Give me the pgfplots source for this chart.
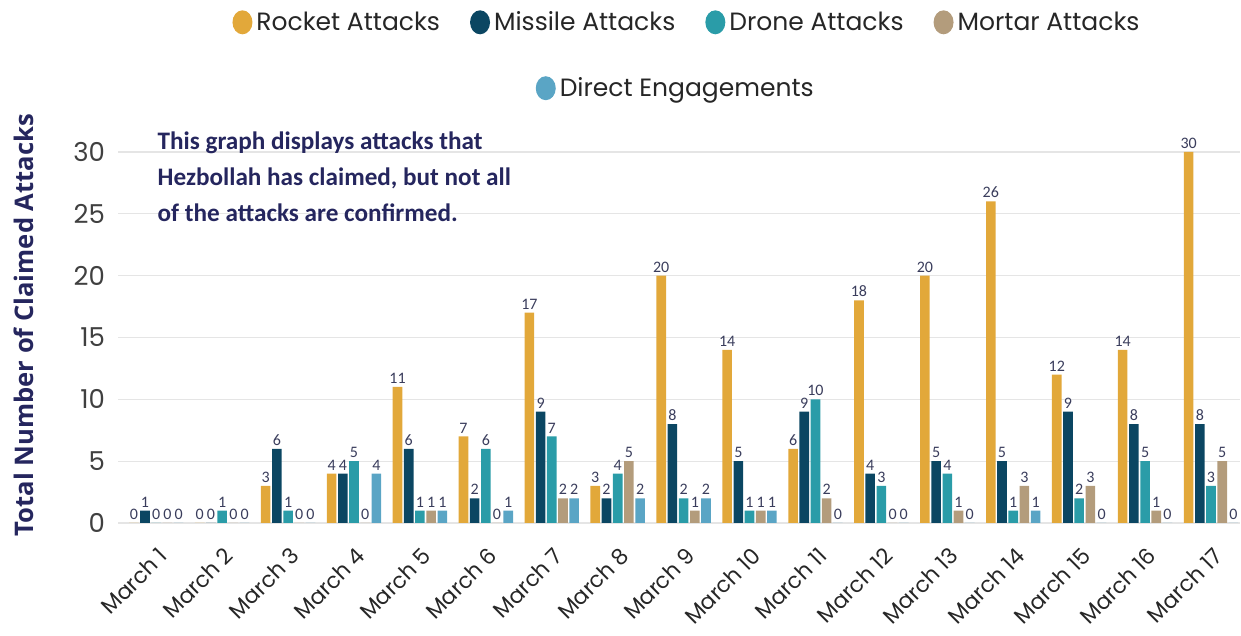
\documentclass[border=0pt]{standalone}
\usepackage{fontspec}
\setmainfont{Poppins}
\newfontfamily\carlito{Carlito}
\newfontfamily\opensans{Open Sans}
\usepackage{pgfplots}
\usepackage{pgfplotstable}
\pgfplotsset{compat=1.18}

\definecolor{rocket}{HTML}{E2A83A}
\definecolor{missile}{HTML}{0B4662}
\definecolor{drone}{HTML}{2A9CA8}
\definecolor{mortar}{HTML}{B39C7C}
\definecolor{direct}{HTML}{5AA5C5}
\definecolor{navy}{HTML}{25265E}
\definecolor{vlab}{HTML}{3A3D5C}

% attacks per day: rocket, missile, drone, mortar, direct engagements
\pgfplotstableread{
day R M D Mo DE
1 0 1 0 0 0
2 0 0 1 0 0
3 3 6 1 0 0
4 4 4 5 0 4
5 11 6 1 1 1
6 7 2 6 0 1
7 17 9 7 2 2
8 3 2 4 5 2
9 20 8 2 1 2
10 14 5 1 1 1
11 6 9 10 2 0
12 18 4 3 0 0
13 20 5 4 1 0
14 26 5 1 3 1
15 12 9 2 3 0
16 14 8 5 1 0
17 30 8 3 5 0
}\attacks

\pgfplotsset{
  base/.style={
    width=561pt, height=197.9pt, scale only axis,
    xmin=0.42, xmax=17.44, ymin=0, ymax=32,
    at={(59pt,56.5pt)}, anchor=south west,
  },
  dotlegend/.style={
    legend image code/.code={\fill[##1,draw=none] (3pt,0pt) ellipse (5pt and 6pt);},
  },
}

\begin{document}
\begin{tikzpicture}
\useasboundingbox (0,0) rectangle (620.5pt,318pt);
\begin{axis}[
  base,
  ybar=0.8pt, bar width=4.8pt,
  axis line style={draw=none},
  major tick length=0pt,
  clip=false,
  ymajorgrids, grid style={draw=black!10, line width=0.6pt},
  ytick={0,5,...,30},
  xtick={1,...,17},
  xticklabels={March 1,March 2,March 3,March 4,March 5,March 6,March 7,March 8,March 9,March 10,March 11,March 12,March 13,March 14,March 15,March 16,March 17},
  /pgf/number format/assume math mode=true,
  yticklabel style={font=\fontsize{13}{13}\selectfont, text=black!75, xshift=-3pt},
  xticklabel style={font=\fontsize{11}{11}\selectfont, text=black!85, xshift=6pt, yshift=-12pt, rotate=45, anchor=east},
  every axis y label/.style={at={(axis description cs:-0.084,0.5)}, rotate=90, anchor=center,
    font=\opensans\bfseries\fontsize{12.8}{13}\selectfont, text=navy},
  ylabel={Total Number of Claimed Attacks},
  nodes near coords,
  every node near coord/.append style={font=\carlito\fontsize{8}{8}\selectfont, text=vlab, inner sep=1.5pt},
  dotlegend,
  legend columns=4,
  legend style={draw=none, fill=none, at={(0.508,1.265)}, anchor=center,
    font=\fontsize{12.5}{15}\selectfont, text=black!85,
    /tikz/every even column/.append style={column sep=13pt}},
]
\addplot[fill=rocket, draw=none] table[x=day, y=R] {\attacks};
\addplot[fill=missile, draw=none] table[x=day, y=M] {\attacks};
\addplot[fill=drone, draw=none] table[x=day, y=D] {\attacks};
\addplot[fill=mortar, draw=none] table[x=day, y=Mo] {\attacks};
\addplot[fill=direct, draw=none] table[x=day, y=DE] {\attacks};
\legend{Rocket Attacks,Missile Attacks,Drone Attacks,Mortar Attacks}
\node[anchor=north west, align=left, inner sep=0pt, text=navy,
  font=\carlito\bfseries\fontsize{12.6}{18}\selectfont]
  at (axis description cs:0.035,0.99)
  {This graph displays attacks that\\Hezbollah has claimed, but not all\\of the attacks are confirmed.};
\end{axis}
% second legend row
\begin{axis}[
  base, hide axis, dotlegend,
  legend style={draw=none, fill=none, at={(0.498,1.0985)}, anchor=center,
    font=\fontsize{12.5}{15}\selectfont, text=black!85},
]
\addlegendimage{fill=direct}
\addlegendentry{Direct Engagements}
\end{axis}
\end{tikzpicture}
\end{document}
